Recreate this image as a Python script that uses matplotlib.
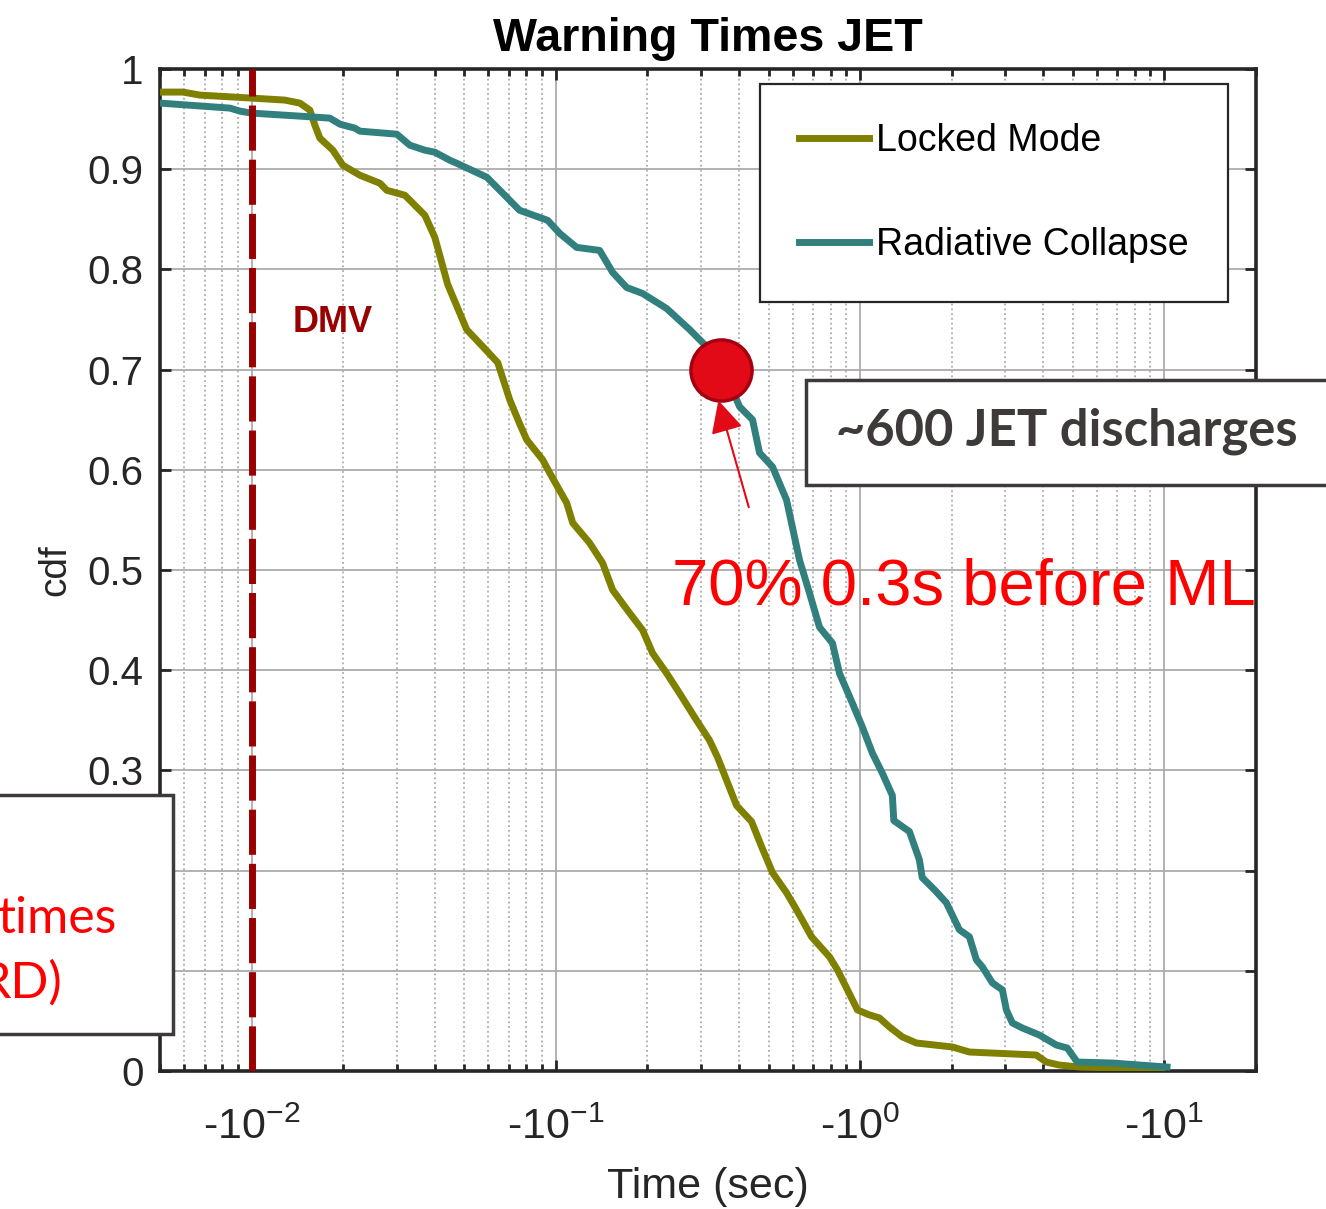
import numpy as np
import matplotlib
matplotlib.use("Agg")
import matplotlib.pyplot as plt
from matplotlib.patches import Rectangle
from matplotlib.ticker import LogLocator, NullFormatter, FuncFormatter

plt.rcParams["font.family"] = ["Liberation Sans", "DejaVu Sans"]
plt.rcParams["mathtext.fontset"] = "custom"
plt.rcParams["mathtext.rm"] = "Liberation Sans"
plt.rcParams["mathtext.it"] = "Liberation Sans"

# warning time before ML (sec, shown as negative on the axis) and cdf
locked_time = [0.0050, 0.00595, 0.00676, 0.0100, 0.01286, 0.0144, 0.01554, 0.01614, 0.01676,
               0.01849, 0.01994, 0.0227, 0.0264, 0.0278, 0.0319, 0.0339, 0.0371, 0.0400,
               0.0441, 0.0509, 0.0575, 0.0644, 0.0705, 0.0760, 0.0802, 0.0905, 0.0954,
               0.1085, 0.1136, 0.1291, 0.1424, 0.1537, 0.1748, 0.1928, 0.2079, 0.2312,
               0.2550, 0.2900, 0.3200, 0.3400, 0.3925, 0.4396, 0.4742, 0.5152, 0.5728,
               0.6178, 0.6922, 0.7929, 0.8424, 0.9086, 0.9797, 1.073, 1.157, 1.248, 1.377,
               1.531, 2.010, 2.286, 3.79, 4.09, 4.51, 5.25, 9.83]
locked_cdf = [0.977, 0.977, 0.974, 0.971, 0.969, 0.966, 0.959, 0.944, 0.931,
              0.919, 0.904, 0.894, 0.886, 0.879, 0.874, 0.866, 0.854, 0.832,
              0.785, 0.740, 0.723, 0.707, 0.670, 0.646, 0.630, 0.610, 0.597,
              0.567, 0.547, 0.527, 0.507, 0.480, 0.457, 0.440, 0.417, 0.397,
              0.377, 0.350, 0.330, 0.313, 0.265, 0.249, 0.224, 0.198, 0.178,
              0.161, 0.134, 0.114, 0.101, 0.081, 0.061, 0.056, 0.053, 0.044, 0.034,
              0.028, 0.024, 0.019, 0.016, 0.009, 0.006, 0.004, 0.002]

radiative_time = [0.0050, 0.00849, 0.00915, 0.0100, 0.0144, 0.01807, 0.0195, 0.02184, 0.0227,
                  0.0300, 0.0331, 0.0371, 0.0400, 0.0448, 0.0472, 0.0593, 0.0669, 0.0760,
                  0.0940, 0.1029, 0.1170, 0.1392, 0.1537, 0.1708, 0.1928, 0.2312, 0.2751,
                  0.3128, 0.353, 0.4015, 0.4429, 0.4670, 0.5152, 0.5728, 0.6320, 0.6817,
                  0.7352, 0.8110, 0.8551, 0.9434, 1.018, 1.098, 1.184, 1.276, 1.290, 1.452,
                  1.565, 1.600, 1.754, 1.920, 2.119, 2.286, 2.410, 2.521, 2.720, 2.934,
                  3.024, 3.164, 3.412, 3.880, 4.413, 4.795, 5.17, 6.74, 10.2]
radiative_cdf = [0.966, 0.961, 0.958, 0.956, 0.953, 0.951, 0.945, 0.941, 0.938,
                 0.935, 0.924, 0.919, 0.917, 0.909, 0.906, 0.892, 0.876, 0.859,
                 0.849, 0.836, 0.822, 0.819, 0.797, 0.782, 0.776, 0.761, 0.740,
                 0.723, 0.703, 0.663, 0.650, 0.617, 0.603, 0.570, 0.510, 0.477,
                 0.443, 0.427, 0.397, 0.367, 0.343, 0.317, 0.297, 0.275, 0.250, 0.239,
                 0.211, 0.193, 0.181, 0.168, 0.141, 0.134, 0.111, 0.104, 0.088, 0.081,
                 0.061, 0.048, 0.043, 0.036, 0.026, 0.023, 0.009, 0.008, 0.004]

dmv_time = 0.01
point_time, point_cdf = 0.35, 0.70
y_ticks = [0, 0.1, 0.2, 0.3, 0.4, 0.5, 0.6, 0.7, 0.8, 0.9, 1]
y_tick_labels = ["0", "0.1", "0.2", "0.3", "0.4", "0.5", "0.6", "0.7", "0.8", "0.9", "1"]

dark = "#262626"
box_gray = "#3F3A3A"

fig = plt.figure(figsize=(13.26, 12.09), dpi=100)
ax = fig.add_axes([0.1207, 0.1141, 0.8265, 0.8288])

ax.plot(locked_time, locked_cdf, color="#808000", lw=5, label="Locked Mode",
        solid_joinstyle="round", zorder=3)
ax.plot(radiative_time, radiative_cdf, color="#31807E", lw=5, label="Radiative Collapse",
        solid_joinstyle="round", zorder=3)
ax.axvline(dmv_time, color="#9B0000", lw=5, dashes=(6.5, 1.3), zorder=4)
ax.text(0.01367, 0.7375, "DMV", color="#990000", fontsize=26, fontweight="bold",
        ha="left", va="baseline", zorder=5)

ax.set_xscale("log")
ax.set_xlim(0.005, 20)
ax.set_ylim(0, 1)
ax.xaxis.set_major_locator(LogLocator(base=10, numticks=10))
ax.xaxis.set_minor_locator(LogLocator(base=10, subs=np.arange(2, 10), numticks=50))
ax.xaxis.set_minor_formatter(NullFormatter())
ax.xaxis.set_major_formatter(FuncFormatter(lambda v, p: "-10$^{%d}$" % round(np.log10(v))))
ax.set_yticks(y_ticks)
ax.set_yticklabels(y_tick_labels)

ax.grid(which="major", color="#ababab", lw=1.3, ls="-", zorder=0)
ax.grid(which="minor", axis="x", color="#ababab", lw=1.3, ls=":", zorder=0)
ax.set_axisbelow(True)

ax.tick_params(which="both", direction="in", top=True, right=True, width=2, color=dark,
               labelcolor=dark)
ax.tick_params(axis="y", labelsize=29, pad=12)
ax.tick_params(axis="x", labelsize=31, pad=26)
ax.tick_params(which="major", length=8)
ax.tick_params(which="minor", length=5)
for s in ax.spines.values():
    s.set_linewidth(2.6)
    s.set_color(dark)

ax.set_title("Warning Times JET", fontsize=33.6, fontweight="bold", pad=13)
ax.set_xlabel("Time (sec)", fontsize=31, color=dark, labelpad=14)
ax.set_ylabel("cdf", fontsize=28, color=dark, labelpad=10)

leg = ax.legend(loc="upper right", bbox_to_anchor=(0.9745, 0.985), borderaxespad=0,
                fontsize=27, frameon=True, fancybox=False, edgecolor=dark, framealpha=1,
                borderpad=1.05, labelspacing=1.8, handlelength=1.85, handletextpad=0.2)
leg.get_frame().set_linewidth(1.6)
leg.set_zorder(6)

# 70% point and arrow
ax.plot([point_time], [point_cdf], "o", ms=44, mfc="#E30A17", mec="#A5000F", mew=2.5,
        zorder=7, clip_on=False)
ax.annotate("", xy=(0.340, 0.672), xytext=(0.433, 0.560),
            arrowprops=dict(arrowstyle="-|>", mutation_scale=50, lw=1.5, color="#E30A17"),
            zorder=7)
fig.text(0.5068, 0.4996, "70% 0.3s before ML", color="#FF0000", fontsize=47,
         ha="left", va="baseline", zorder=12)

# boxes drawn on top of the axes
fig.add_artist(Rectangle((0.6078, 0.5988), 0.4027, 0.0868, transform=fig.transFigure,
                         facecolor="white", edgecolor=box_gray, lw=2.5, zorder=10))
fig.text(0.6305, 0.6319, "~600 JET discharges", color=box_gray, fontsize=36.5,
         fontweight="bold", family=["Lato", "DejaVu Sans"], ha="left", va="baseline",
         zorder=12)

fig.add_artist(Rectangle((-0.01, 0.1447), 0.1403, 0.1977, transform=fig.transFigure,
                         facecolor="white", edgecolor=box_gray, lw=2.5, zorder=10))
fig.text(0.0882, 0.2283, "times", color="#FF0000", fontsize=36,
         family=["Lato", "DejaVu Sans"], ha="right", va="baseline", zorder=12)
fig.text(0.0468, 0.1745, "RD)", color="#FF0000", fontsize=36,
         family=["Lato", "DejaVu Sans"], ha="right", va="baseline", zorder=12)

fig.savefig("out.png", dpi=100)
